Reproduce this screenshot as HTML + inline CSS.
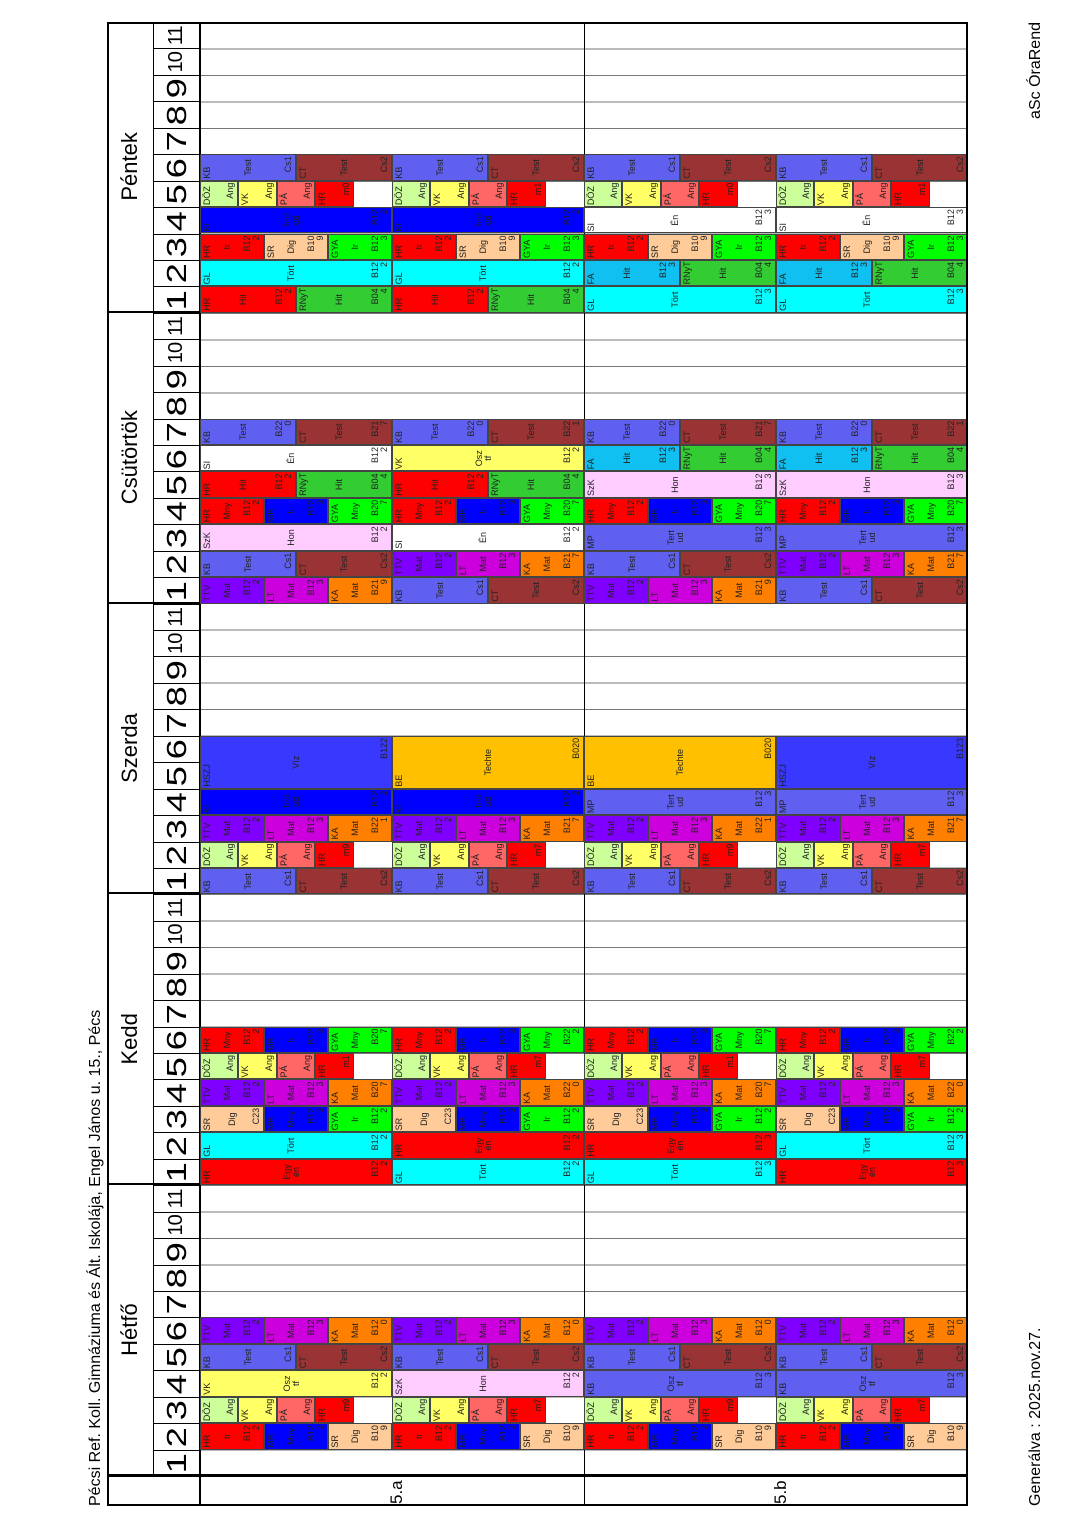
<!DOCTYPE html>
<html><head><meta charset="utf-8">
<style>
html,body{margin:0;padding:0;background:#fff;}
body{width:1080px;height:1528px;position:relative;overflow:hidden;font-family:"Liberation Sans",Arial,sans-serif;}
#R{position:absolute;left:107px;top:1506px;width:1484px;height:861px;transform-origin:0 0;transform:rotate(-90deg);}
.frame{position:absolute;left:0;top:0;width:1484px;height:861px;border:2px solid #000;box-sizing:border-box;z-index:5;pointer-events:none}
.day{position:absolute;top:0;height:861px;width:290.8px;left:calc(30px + var(--d)*290.8px);border-left:2px solid #000;box-sizing:border-box;}
.dn{position:absolute;left:0;top:0;width:100%;height:46px;border-bottom:1px solid #000;font-size:22px;text-align:center;line-height:46px;}
.bg{position:absolute;left:-2px;top:93px;width:290.8px;height:768px;background:repeating-linear-gradient(to right,transparent 0 25.436px,#777 25.436px 26.436px);}
.pn{position:absolute;top:46px;height:47px;width:26.436px;left:calc((var(--p) - 1)*26.436px - 2px);border-right:1px solid #000;box-sizing:border-box;text-align:center;font-size:28px;line-height:47px;}
.pn span{display:inline-block;transform:scaleX(1.3)}
.pn.s{font-size:20px;letter-spacing:-1px}
.pn.s span{transform:none}
.hl{position:absolute;left:0;width:1484px;background:#000}
.c{position:absolute;left:calc(30px + var(--d)*290.8px + (var(--p) - 1)*26.436px);top:calc(var(--v)*1px);width:26.436px;height:calc(var(--h)*1px);box-sizing:border-box;border:1px solid #444;overflow:hidden;font-size:9px;line-height:9px;color:#222;display:flex;flex-direction:column;justify-content:space-between;padding:2px 1px;z-index:2}
.c.w2{width:52.87px}
.c b,.c i,.c s{font-weight:normal;font-style:normal;text-decoration:none;display:block}
.c i{text-align:center}
.c s{text-align:right}
.red{background:#ff0000}.blu{background:#0000ff}.pch{background:#ffcc99}.pur{background:#8000ff}.mag{background:#cc00dd}.org{background:#ff8000}.per{background:#6060f0}.brn{background:#9a3333}.yel{background:#ffff66}.pnk{background:#ffccff}.lgr{background:#ccff99}.sal{background:#ff6666}.grn{background:#00ff00}.rny{background:#33cc33}.cya{background:#00ffff}.fa{background:#10c0f0}.hsz{background:#3838ff}.gold{background:#ffc000}.wht{background:#fff}
.cl{position:absolute;top:0;height:30px;font-size:17px;line-height:30px}
.t{position:absolute;font-size:16px;white-space:nowrap;line-height:20px}
</style></head><body>
<div id="R">
<div class="t" style="left:0;top:-21px">Pécsi Ref. Koll. Gimnáziuma és Ált. Iskolája, Engel János u. 15., Pécs</div>
<div class="t" style="left:0;top:919px">Generálva : 2025.nov.27.</div>
<div class="t" style="right:0;top:919px;left:auto;width:auto;position:absolute;text-align:right"><span style="position:absolute;right:0;white-space:nowrap">aSc ÓraRend</span></div>

<div class="day" style="--d:0"><div class="dn">Hétfő</div><div class="bg"></div>
<div class="pn" style="--p:1"><span>1</span></div><div class="pn" style="--p:2"><span>2</span></div><div class="pn" style="--p:3"><span>3</span></div><div class="pn" style="--p:4"><span>4</span></div><div class="pn" style="--p:5"><span>5</span></div><div class="pn" style="--p:6"><span>6</span></div><div class="pn" style="--p:7"><span>7</span></div><div class="pn" style="--p:8"><span>8</span></div><div class="pn" style="--p:9"><span>9</span></div><div class="pn s" style="--p:10"><span>10</span></div><div class="pn s" style="--p:11"><span>11</span></div></div>
<div class="day" style="--d:1"><div class="dn">Kedd</div><div class="bg"></div>
<div class="pn" style="--p:1"><span>1</span></div><div class="pn" style="--p:2"><span>2</span></div><div class="pn" style="--p:3"><span>3</span></div><div class="pn" style="--p:4"><span>4</span></div><div class="pn" style="--p:5"><span>5</span></div><div class="pn" style="--p:6"><span>6</span></div><div class="pn" style="--p:7"><span>7</span></div><div class="pn" style="--p:8"><span>8</span></div><div class="pn" style="--p:9"><span>9</span></div><div class="pn s" style="--p:10"><span>10</span></div><div class="pn s" style="--p:11"><span>11</span></div></div>
<div class="day" style="--d:2"><div class="dn">Szerda</div><div class="bg"></div>
<div class="pn" style="--p:1"><span>1</span></div><div class="pn" style="--p:2"><span>2</span></div><div class="pn" style="--p:3"><span>3</span></div><div class="pn" style="--p:4"><span>4</span></div><div class="pn" style="--p:5"><span>5</span></div><div class="pn" style="--p:6"><span>6</span></div><div class="pn" style="--p:7"><span>7</span></div><div class="pn" style="--p:8"><span>8</span></div><div class="pn" style="--p:9"><span>9</span></div><div class="pn s" style="--p:10"><span>10</span></div><div class="pn s" style="--p:11"><span>11</span></div></div>
<div class="day" style="--d:3"><div class="dn">Csütörtök</div><div class="bg"></div>
<div class="pn" style="--p:1"><span>1</span></div><div class="pn" style="--p:2"><span>2</span></div><div class="pn" style="--p:3"><span>3</span></div><div class="pn" style="--p:4"><span>4</span></div><div class="pn" style="--p:5"><span>5</span></div><div class="pn" style="--p:6"><span>6</span></div><div class="pn" style="--p:7"><span>7</span></div><div class="pn" style="--p:8"><span>8</span></div><div class="pn" style="--p:9"><span>9</span></div><div class="pn s" style="--p:10"><span>10</span></div><div class="pn s" style="--p:11"><span>11</span></div></div>
<div class="day" style="--d:4"><div class="dn">Péntek</div><div class="bg"></div>
<div class="pn" style="--p:1"><span>1</span></div><div class="pn" style="--p:2"><span>2</span></div><div class="pn" style="--p:3"><span>3</span></div><div class="pn" style="--p:4"><span>4</span></div><div class="pn" style="--p:5"><span>5</span></div><div class="pn" style="--p:6"><span>6</span></div><div class="pn" style="--p:7"><span>7</span></div><div class="pn" style="--p:8"><span>8</span></div><div class="pn" style="--p:9"><span>9</span></div><div class="pn s" style="--p:10"><span>10</span></div><div class="pn s" style="--p:11"><span>11</span></div></div>

<div class="hl" style="top:92px;height:2px"></div>
<div class="hl" style="top:477px;height:1px;left:0"></div>
<div style="position:absolute;left:29px;top:0;width:2px;height:861px;background:#000"></div>
<div class="cl" style="left:2px;top:275px">5.a</div>
<div class="cl" style="left:2px;top:659px">5.b</div>

<!-- HÉTFŐ d0 -->
<!-- p2 thirds A -->
<div class="c red" style="--d:0;--p:2;--v:93;--h:64"><b>HR</b><i>Ir</i><s>B12 2</s></div>
<div class="c blu" style="--d:0;--p:2;--v:157;--h:64"><b>MB</b><i>Mny</i><s>B12 3</s></div>
<div class="c pch" style="--d:0;--p:2;--v:221;--h:64"><b>SR</b><i>Dig</i><s>B10 9</s></div>
<div class="c red" style="--d:0;--p:2;--v:285;--h:64"><b>HR</b><i>Ir</i><s>B12 2</s></div>
<div class="c blu" style="--d:0;--p:2;--v:349;--h:64"><b>MB</b><i>Mny</i><s>B12 3</s></div>
<div class="c pch" style="--d:0;--p:2;--v:413;--h:64"><b>SR</b><i>Dig</i><s>B10 9</s></div>
<div class="c red" style="--d:0;--p:2;--v:477;--h:64"><b>HR</b><i>Ir</i><s>B12 2</s></div>
<div class="c blu" style="--d:0;--p:2;--v:541;--h:64"><b>MB</b><i>Mny</i><s>B12 3</s></div>
<div class="c pch" style="--d:0;--p:2;--v:605;--h:64"><b>SR</b><i>Dig</i><s>B10 9</s></div>
<div class="c red" style="--d:0;--p:2;--v:669;--h:64"><b>HR</b><i>Ir</i><s>B12 2</s></div>
<div class="c blu" style="--d:0;--p:2;--v:733;--h:64"><b>MB</b><i>Mny</i><s>B12 3</s></div>
<div class="c pch" style="--d:0;--p:2;--v:797;--h:64"><b>SR</b><i>Dig</i><s>B10 9</s></div>
<!-- p3 5-slot -->
<div class="c lgr" style="--d:0;--p:3;--v:93;--h:38.4"><b>DÖZ</b><s>Ang</s></div>
<div class="c yel" style="--d:0;--p:3;--v:131.4;--h:38.4"><b>VK</b><s>Ang</s></div>
<div class="c sal" style="--d:0;--p:3;--v:169.8;--h:38.4"><b>PÁ</b><s>Ang</s></div>
<div class="c red" style="--d:0;--p:3;--v:208.2;--h:38.4"><b>HR</b><s>m9</s></div>
<div class="c lgr" style="--d:0;--p:3;--v:285;--h:38.4"><b>DÖZ</b><s>Ang</s></div>
<div class="c yel" style="--d:0;--p:3;--v:323.4;--h:38.4"><b>VK</b><s>Ang</s></div>
<div class="c sal" style="--d:0;--p:3;--v:361.8;--h:38.4"><b>PÁ</b><s>Ang</s></div>
<div class="c red" style="--d:0;--p:3;--v:400.2;--h:38.4"><b>HR</b><s>m7</s></div>
<div class="c lgr" style="--d:0;--p:3;--v:477;--h:38.4"><b>DÖZ</b><s>Ang</s></div>
<div class="c yel" style="--d:0;--p:3;--v:515.4;--h:38.4"><b>VK</b><s>Ang</s></div>
<div class="c sal" style="--d:0;--p:3;--v:553.8;--h:38.4"><b>PÁ</b><s>Ang</s></div>
<div class="c red" style="--d:0;--p:3;--v:592.2;--h:38.4"><b>HR</b><s>m9</s></div>
<div class="c lgr" style="--d:0;--p:3;--v:669;--h:38.4"><b>DÖZ</b><s>Ang</s></div>
<div class="c yel" style="--d:0;--p:3;--v:707.4;--h:38.4"><b>VK</b><s>Ang</s></div>
<div class="c sal" style="--d:0;--p:3;--v:745.8;--h:38.4"><b>PÁ</b><s>Ang</s></div>
<div class="c red" style="--d:0;--p:3;--v:784.2;--h:38.4"><b>HR</b><s>m7</s></div>
<!-- p4 -->
<div class="c yel" style="--d:0;--p:4;--v:93;--h:192"><b>VK</b><i>Osz tf</i><s>B12 2</s></div>
<div class="c pnk" style="--d:0;--p:4;--v:285;--h:192"><b>SzK</b><i>Hon</i><s>B12 2</s></div>
<div class="c per" style="--d:0;--p:4;--v:477;--h:192"><b>KB</b><i>Osz tf</i><s>B12 3</s></div>
<div class="c per" style="--d:0;--p:4;--v:669;--h:192"><b>KB</b><i>Osz tf</i><s>B12 3</s></div>
<!-- p5 halves -->
<div class="c per" style="--d:0;--p:5;--v:93;--h:96"><b>KB</b><i>Test</i><s>Cs1</s></div>
<div class="c brn" style="--d:0;--p:5;--v:189;--h:96"><b>CT</b><i>Test</i><s>Cs2</s></div>
<div class="c per" style="--d:0;--p:5;--v:285;--h:96"><b>KB</b><i>Test</i><s>Cs1</s></div>
<div class="c brn" style="--d:0;--p:5;--v:381;--h:96"><b>CT</b><i>Test</i><s>Cs2</s></div>
<div class="c per" style="--d:0;--p:5;--v:477;--h:96"><b>KB</b><i>Test</i><s>Cs1</s></div>
<div class="c brn" style="--d:0;--p:5;--v:573;--h:96"><b>CT</b><i>Test</i><s>Cs2</s></div>
<div class="c per" style="--d:0;--p:5;--v:669;--h:96"><b>KB</b><i>Test</i><s>Cs1</s></div>
<div class="c brn" style="--d:0;--p:5;--v:765;--h:96"><b>CT</b><i>Test</i><s>Cs2</s></div>
<!-- p6 thirds B -->
<div class="c pur" style="--d:0;--p:6;--v:93;--h:64"><b>TTV</b><i>Mat</i><s>B12 2</s></div>
<div class="c mag" style="--d:0;--p:6;--v:157;--h:64"><b>LT</b><i>Mat</i><s>B12 3</s></div>
<div class="c org" style="--d:0;--p:6;--v:221;--h:64"><b>KA</b><i>Mat</i><s>B12 0</s></div>
<div class="c pur" style="--d:0;--p:6;--v:285;--h:64"><b>TTV</b><i>Mat</i><s>B12 2</s></div>
<div class="c mag" style="--d:0;--p:6;--v:349;--h:64"><b>LT</b><i>Mat</i><s>B12 3</s></div>
<div class="c org" style="--d:0;--p:6;--v:413;--h:64"><b>KA</b><i>Mat</i><s>B12 0</s></div>
<div class="c pur" style="--d:0;--p:6;--v:477;--h:64"><b>TTV</b><i>Mat</i><s>B12 2</s></div>
<div class="c mag" style="--d:0;--p:6;--v:541;--h:64"><b>LT</b><i>Mat</i><s>B12 3</s></div>
<div class="c org" style="--d:0;--p:6;--v:605;--h:64"><b>KA</b><i>Mat</i><s>B12 0</s></div>
<div class="c pur" style="--d:0;--p:6;--v:669;--h:64"><b>TTV</b><i>Mat</i><s>B12 2</s></div>
<div class="c mag" style="--d:0;--p:6;--v:733;--h:64"><b>LT</b><i>Mat</i><s>B12 3</s></div>
<div class="c org" style="--d:0;--p:6;--v:797;--h:64"><b>KA</b><i>Mat</i><s>B12 0</s></div>

<!-- KEDD d1 -->
<div class="c red" style="--d:1;--p:1;--v:93;--h:192"><b>HR</b><i>Egy én</i><s>B12 2</s></div>
<div class="c cya" style="--d:1;--p:1;--v:285;--h:192"><b>GL</b><i>Tört</i><s>B12 2</s></div>
<div class="c cya" style="--d:1;--p:1;--v:477;--h:192"><b>GL</b><i>Tört</i><s>B12 3</s></div>
<div class="c red" style="--d:1;--p:1;--v:669;--h:192"><b>HR</b><i>Egy én</i><s>B12 3</s></div>
<div class="c cya" style="--d:1;--p:2;--v:93;--h:192"><b>GL</b><i>Tört</i><s>B12 2</s></div>
<div class="c red" style="--d:1;--p:2;--v:285;--h:192"><b>HR</b><i>Egy én</i><s>B12 2</s></div>
<div class="c red" style="--d:1;--p:2;--v:477;--h:192"><b>HR</b><i>Egy én</i><s>B12 3</s></div>
<div class="c cya" style="--d:1;--p:2;--v:669;--h:192"><b>GL</b><i>Tört</i><s>B12 3</s></div>
<!-- p3 C -->
<div class="c pch" style="--d:1;--p:3;--v:93;--h:64"><b>SR</b><i>Dig</i><s>C23</s></div>
<div class="c blu" style="--d:1;--p:3;--v:157;--h:64"><b>MB</b><i>Mny</i><s>B12 3</s></div>
<div class="c grn" style="--d:1;--p:3;--v:221;--h:64"><b>GYA</b><i>Ir</i><s>B12 2</s></div>
<div class="c pch" style="--d:1;--p:3;--v:285;--h:64"><b>SR</b><i>Dig</i><s>C23</s></div>
<div class="c blu" style="--d:1;--p:3;--v:349;--h:64"><b>MB</b><i>Mny</i><s>B12 3</s></div>
<div class="c grn" style="--d:1;--p:3;--v:413;--h:64"><b>GYA</b><i>Ir</i><s>B12 2</s></div>
<div class="c pch" style="--d:1;--p:3;--v:477;--h:64"><b>SR</b><i>Dig</i><s>C23</s></div>
<div class="c blu" style="--d:1;--p:3;--v:541;--h:64"><b>MB</b><i>Mny</i><s>B12 3</s></div>
<div class="c grn" style="--d:1;--p:3;--v:605;--h:64"><b>GYA</b><i>Ir</i><s>B12 2</s></div>
<div class="c pch" style="--d:1;--p:3;--v:669;--h:64"><b>SR</b><i>Dig</i><s>C23</s></div>
<div class="c blu" style="--d:1;--p:3;--v:733;--h:64"><b>MB</b><i>Mny</i><s>B12 3</s></div>
<div class="c grn" style="--d:1;--p:3;--v:797;--h:64"><b>GYA</b><i>Ir</i><s>B12 2</s></div>
<!-- p4 B -->
<div class="c pur" style="--d:1;--p:4;--v:93;--h:64"><b>TTV</b><i>Mat</i><s>B12 2</s></div>
<div class="c mag" style="--d:1;--p:4;--v:157;--h:64"><b>LT</b><i>Mat</i><s>B12 3</s></div>
<div class="c org" style="--d:1;--p:4;--v:221;--h:64"><b>KA</b><i>Mat</i><s>B20 7</s></div>
<div class="c pur" style="--d:1;--p:4;--v:285;--h:64"><b>TTV</b><i>Mat</i><s>B12 2</s></div>
<div class="c mag" style="--d:1;--p:4;--v:349;--h:64"><b>LT</b><i>Mat</i><s>B12 3</s></div>
<div class="c org" style="--d:1;--p:4;--v:413;--h:64"><b>KA</b><i>Mat</i><s>B22 0</s></div>
<div class="c pur" style="--d:1;--p:4;--v:477;--h:64"><b>TTV</b><i>Mat</i><s>B12 2</s></div>
<div class="c mag" style="--d:1;--p:4;--v:541;--h:64"><b>LT</b><i>Mat</i><s>B12 3</s></div>
<div class="c org" style="--d:1;--p:4;--v:605;--h:64"><b>KA</b><i>Mat</i><s>B20 7</s></div>
<div class="c pur" style="--d:1;--p:4;--v:669;--h:64"><b>TTV</b><i>Mat</i><s>B12 2</s></div>
<div class="c mag" style="--d:1;--p:4;--v:733;--h:64"><b>LT</b><i>Mat</i><s>B12 3</s></div>
<div class="c org" style="--d:1;--p:4;--v:797;--h:64"><b>KA</b><i>Mat</i><s>B22 0</s></div>
<!-- p5 5-slot -->
<div class="c lgr" style="--d:1;--p:5;--v:93;--h:38.4"><b>DÖZ</b><s>Ang</s></div>
<div class="c yel" style="--d:1;--p:5;--v:131.4;--h:38.4"><b>VK</b><s>Ang</s></div>
<div class="c sal" style="--d:1;--p:5;--v:169.8;--h:38.4"><b>PÁ</b><s>Ang</s></div>
<div class="c red" style="--d:1;--p:5;--v:208.2;--h:38.4"><b>HR</b><s>m1</s></div>
<div class="c lgr" style="--d:1;--p:5;--v:285;--h:38.4"><b>DÖZ</b><s>Ang</s></div>
<div class="c yel" style="--d:1;--p:5;--v:323.4;--h:38.4"><b>VK</b><s>Ang</s></div>
<div class="c sal" style="--d:1;--p:5;--v:361.8;--h:38.4"><b>PÁ</b><s>Ang</s></div>
<div class="c red" style="--d:1;--p:5;--v:400.2;--h:38.4"><b>HR</b><s>m7</s></div>
<div class="c lgr" style="--d:1;--p:5;--v:477;--h:38.4"><b>DÖZ</b><s>Ang</s></div>
<div class="c yel" style="--d:1;--p:5;--v:515.4;--h:38.4"><b>VK</b><s>Ang</s></div>
<div class="c sal" style="--d:1;--p:5;--v:553.8;--h:38.4"><b>PÁ</b><s>Ang</s></div>
<div class="c red" style="--d:1;--p:5;--v:592.2;--h:38.4"><b>HR</b><s>m1</s></div>
<div class="c lgr" style="--d:1;--p:5;--v:669;--h:38.4"><b>DÖZ</b><s>Ang</s></div>
<div class="c yel" style="--d:1;--p:5;--v:707.4;--h:38.4"><b>VK</b><s>Ang</s></div>
<div class="c sal" style="--d:1;--p:5;--v:745.8;--h:38.4"><b>PÁ</b><s>Ang</s></div>
<div class="c red" style="--d:1;--p:5;--v:784.2;--h:38.4"><b>HR</b><s>m7</s></div>
<!-- p6 D -->
<div class="c red" style="--d:1;--p:6;--v:93;--h:64"><b>HR</b><i>Mny</i><s>B12 2</s></div>
<div class="c blu" style="--d:1;--p:6;--v:157;--h:64"><b>MB</b><i>Ir</i><s>B12 3</s></div>
<div class="c grn" style="--d:1;--p:6;--v:221;--h:64"><b>GYA</b><i>Mny</i><s>B20 7</s></div>
<div class="c red" style="--d:1;--p:6;--v:285;--h:64"><b>HR</b><i>Mny</i><s>B12 2</s></div>
<div class="c blu" style="--d:1;--p:6;--v:349;--h:64"><b>MB</b><i>Ir</i><s>B12 3</s></div>
<div class="c grn" style="--d:1;--p:6;--v:413;--h:64"><b>GYA</b><i>Mny</i><s>B22 2</s></div>
<div class="c red" style="--d:1;--p:6;--v:477;--h:64"><b>HR</b><i>Mny</i><s>B12 2</s></div>
<div class="c blu" style="--d:1;--p:6;--v:541;--h:64"><b>MB</b><i>Ir</i><s>B12 3</s></div>
<div class="c grn" style="--d:1;--p:6;--v:605;--h:64"><b>GYA</b><i>Mny</i><s>B20 7</s></div>
<div class="c red" style="--d:1;--p:6;--v:669;--h:64"><b>HR</b><i>Mny</i><s>B12 2</s></div>
<div class="c blu" style="--d:1;--p:6;--v:733;--h:64"><b>MB</b><i>Ir</i><s>B12 3</s></div>
<div class="c grn" style="--d:1;--p:6;--v:797;--h:64"><b>GYA</b><i>Mny</i><s>B22 2</s></div>

<!-- SZERDA d2 -->
<div class="c per" style="--d:2;--p:1;--v:93;--h:96"><b>KB</b><i>Test</i><s>Cs1</s></div>
<div class="c brn" style="--d:2;--p:1;--v:189;--h:96"><b>CT</b><i>Test</i><s>Cs2</s></div>
<div class="c per" style="--d:2;--p:1;--v:285;--h:96"><b>KB</b><i>Test</i><s>Cs1</s></div>
<div class="c brn" style="--d:2;--p:1;--v:381;--h:96"><b>CT</b><i>Test</i><s>Cs2</s></div>
<div class="c per" style="--d:2;--p:1;--v:477;--h:96"><b>KB</b><i>Test</i><s>Cs1</s></div>
<div class="c brn" style="--d:2;--p:1;--v:573;--h:96"><b>CT</b><i>Test</i><s>Cs2</s></div>
<div class="c per" style="--d:2;--p:1;--v:669;--h:96"><b>KB</b><i>Test</i><s>Cs1</s></div>
<div class="c brn" style="--d:2;--p:1;--v:765;--h:96"><b>CT</b><i>Test</i><s>Cs2</s></div>
<div class="c lgr" style="--d:2;--p:2;--v:93;--h:38.4"><b>DÖZ</b><s>Ang</s></div>
<div class="c yel" style="--d:2;--p:2;--v:131.4;--h:38.4"><b>VK</b><s>Ang</s></div>
<div class="c sal" style="--d:2;--p:2;--v:169.8;--h:38.4"><b>PÁ</b><s>Ang</s></div>
<div class="c red" style="--d:2;--p:2;--v:208.2;--h:38.4"><b>HR</b><s>m9</s></div>
<div class="c lgr" style="--d:2;--p:2;--v:285;--h:38.4"><b>DÖZ</b><s>Ang</s></div>
<div class="c yel" style="--d:2;--p:2;--v:323.4;--h:38.4"><b>VK</b><s>Ang</s></div>
<div class="c sal" style="--d:2;--p:2;--v:361.8;--h:38.4"><b>PÁ</b><s>Ang</s></div>
<div class="c red" style="--d:2;--p:2;--v:400.2;--h:38.4"><b>HR</b><s>m7</s></div>
<div class="c lgr" style="--d:2;--p:2;--v:477;--h:38.4"><b>DÖZ</b><s>Ang</s></div>
<div class="c yel" style="--d:2;--p:2;--v:515.4;--h:38.4"><b>VK</b><s>Ang</s></div>
<div class="c sal" style="--d:2;--p:2;--v:553.8;--h:38.4"><b>PÁ</b><s>Ang</s></div>
<div class="c red" style="--d:2;--p:2;--v:592.2;--h:38.4"><b>HR</b><s>m9</s></div>
<div class="c lgr" style="--d:2;--p:2;--v:669;--h:38.4"><b>DÖZ</b><s>Ang</s></div>
<div class="c yel" style="--d:2;--p:2;--v:707.4;--h:38.4"><b>VK</b><s>Ang</s></div>
<div class="c sal" style="--d:2;--p:2;--v:745.8;--h:38.4"><b>PÁ</b><s>Ang</s></div>
<div class="c red" style="--d:2;--p:2;--v:784.2;--h:38.4"><b>HR</b><s>m7</s></div>
<div class="c pur" style="--d:2;--p:3;--v:93;--h:64"><b>TTV</b><i>Mat</i><s>B12 2</s></div>
<div class="c mag" style="--d:2;--p:3;--v:157;--h:64"><b>LT</b><i>Mat</i><s>B12 3</s></div>
<div class="c org" style="--d:2;--p:3;--v:221;--h:64"><b>KA</b><i>Mat</i><s>B22 1</s></div>
<div class="c pur" style="--d:2;--p:3;--v:285;--h:64"><b>TTV</b><i>Mat</i><s>B12 2</s></div>
<div class="c mag" style="--d:2;--p:3;--v:349;--h:64"><b>LT</b><i>Mat</i><s>B12 3</s></div>
<div class="c org" style="--d:2;--p:3;--v:413;--h:64"><b>KA</b><i>Mat</i><s>B21 7</s></div>
<div class="c pur" style="--d:2;--p:3;--v:477;--h:64"><b>TTV</b><i>Mat</i><s>B12 2</s></div>
<div class="c mag" style="--d:2;--p:3;--v:541;--h:64"><b>LT</b><i>Mat</i><s>B12 3</s></div>
<div class="c org" style="--d:2;--p:3;--v:605;--h:64"><b>KA</b><i>Mat</i><s>B22 1</s></div>
<div class="c pur" style="--d:2;--p:3;--v:669;--h:64"><b>TTV</b><i>Mat</i><s>B12 2</s></div>
<div class="c mag" style="--d:2;--p:3;--v:733;--h:64"><b>LT</b><i>Mat</i><s>B12 3</s></div>
<div class="c org" style="--d:2;--p:3;--v:797;--h:64"><b>KA</b><i>Mat</i><s>B21 7</s></div>
<div class="c blu" style="--d:2;--p:4;--v:93;--h:192"><b>KI</b><i>Tert ud</i><s>B12 2</s></div>
<div class="c blu" style="--d:2;--p:4;--v:285;--h:192"><b>KI</b><i>Tert ud</i><s>B12 2</s></div>
<div class="c per" style="--d:2;--p:4;--v:477;--h:192"><b>MP</b><i>Tert ud</i><s>B12 3</s></div>
<div class="c per" style="--d:2;--p:4;--v:669;--h:192"><b>MP</b><i>Tert ud</i><s>B12 3</s></div>
<div class="c hsz w2" style="--d:2;--p:5;--v:93;--h:192"><b>HSZJ</b><i>Víz</i><s>B122</s></div>
<div class="c gold w2" style="--d:2;--p:5;--v:285;--h:192"><b>BE</b><i>Techte</i><s>B020</s></div>
<div class="c gold w2" style="--d:2;--p:5;--v:477;--h:192"><b>BE</b><i>Techte</i><s>B020</s></div>
<div class="c hsz w2" style="--d:2;--p:5;--v:669;--h:192"><b>HSZJ</b><i>Víz</i><s>B123</s></div>

<!-- CSÜTÖRTÖK d3 -->
<div class="c pur" style="--d:3;--p:1;--v:93;--h:64"><b>TTV</b><i>Mat</i><s>B12 2</s></div>
<div class="c mag" style="--d:3;--p:1;--v:157;--h:64"><b>LT</b><i>Mat</i><s>B12 3</s></div>
<div class="c org" style="--d:3;--p:1;--v:221;--h:64"><b>KA</b><i>Mat</i><s>B21 9</s></div>
<div class="c per" style="--d:3;--p:1;--v:285;--h:96"><b>KB</b><i>Test</i><s>Cs1</s></div>
<div class="c brn" style="--d:3;--p:1;--v:381;--h:96"><b>CT</b><i>Test</i><s>Cs2</s></div>
<div class="c pur" style="--d:3;--p:1;--v:477;--h:64"><b>TTV</b><i>Mat</i><s>B12 2</s></div>
<div class="c mag" style="--d:3;--p:1;--v:541;--h:64"><b>LT</b><i>Mat</i><s>B12 3</s></div>
<div class="c org" style="--d:3;--p:1;--v:605;--h:64"><b>KA</b><i>Mat</i><s>B21 9</s></div>
<div class="c per" style="--d:3;--p:1;--v:669;--h:96"><b>KB</b><i>Test</i><s>Cs1</s></div>
<div class="c brn" style="--d:3;--p:1;--v:765;--h:96"><b>CT</b><i>Test</i><s>Cs2</s></div>
<div class="c per" style="--d:3;--p:2;--v:93;--h:96"><b>KB</b><i>Test</i><s>Cs1</s></div>
<div class="c brn" style="--d:3;--p:2;--v:189;--h:96"><b>CT</b><i>Test</i><s>Cs2</s></div>
<div class="c pur" style="--d:3;--p:2;--v:285;--h:64"><b>TTV</b><i>Mat</i><s>B12 2</s></div>
<div class="c mag" style="--d:3;--p:2;--v:349;--h:64"><b>LT</b><i>Mat</i><s>B12 3</s></div>
<div class="c org" style="--d:3;--p:2;--v:413;--h:64"><b>KA</b><i>Mat</i><s>B21 7</s></div>
<div class="c per" style="--d:3;--p:2;--v:477;--h:96"><b>KB</b><i>Test</i><s>Cs1</s></div>
<div class="c brn" style="--d:3;--p:2;--v:573;--h:96"><b>CT</b><i>Test</i><s>Cs2</s></div>
<div class="c pur" style="--d:3;--p:2;--v:669;--h:64"><b>TTV</b><i>Mat</i><s>B12 2</s></div>
<div class="c mag" style="--d:3;--p:2;--v:733;--h:64"><b>LT</b><i>Mat</i><s>B12 3</s></div>
<div class="c org" style="--d:3;--p:2;--v:797;--h:64"><b>KA</b><i>Mat</i><s>B21 7</s></div>
<div class="c pnk" style="--d:3;--p:3;--v:93;--h:192"><b>SzK</b><i>Hon</i><s>B12 2</s></div>
<div class="c wht" style="--d:3;--p:3;--v:285;--h:192"><b>SI</b><i>Én</i><s>B12 2</s></div>
<div class="c per" style="--d:3;--p:3;--v:477;--h:192"><b>MP</b><i>Tert ud</i><s>B12 3</s></div>
<div class="c per" style="--d:3;--p:3;--v:669;--h:192"><b>MP</b><i>Tert ud</i><s>B12 3</s></div>
<div class="c red" style="--d:3;--p:4;--v:93;--h:64"><b>HR</b><i>Mny</i><s>B12 2</s></div>
<div class="c blu" style="--d:3;--p:4;--v:157;--h:64"><b>MB</b><i>Ir</i><s>B12 3</s></div>
<div class="c grn" style="--d:3;--p:4;--v:221;--h:64"><b>GYA</b><i>Mny</i><s>B20 7</s></div>
<div class="c red" style="--d:3;--p:4;--v:285;--h:64"><b>HR</b><i>Mny</i><s>B12 2</s></div>
<div class="c blu" style="--d:3;--p:4;--v:349;--h:64"><b>MB</b><i>Ir</i><s>B12 3</s></div>
<div class="c grn" style="--d:3;--p:4;--v:413;--h:64"><b>GYA</b><i>Mny</i><s>B20 7</s></div>
<div class="c red" style="--d:3;--p:4;--v:477;--h:64"><b>HR</b><i>Mny</i><s>B12 2</s></div>
<div class="c blu" style="--d:3;--p:4;--v:541;--h:64"><b>MB</b><i>Ir</i><s>B12 3</s></div>
<div class="c grn" style="--d:3;--p:4;--v:605;--h:64"><b>GYA</b><i>Mny</i><s>B20 7</s></div>
<div class="c red" style="--d:3;--p:4;--v:669;--h:64"><b>HR</b><i>Mny</i><s>B12 2</s></div>
<div class="c blu" style="--d:3;--p:4;--v:733;--h:64"><b>MB</b><i>Ir</i><s>B12 3</s></div>
<div class="c grn" style="--d:3;--p:4;--v:797;--h:64"><b>GYA</b><i>Mny</i><s>B20 7</s></div>
<div class="c red" style="--d:3;--p:5;--v:93;--h:96"><b>HR</b><i>Hit</i><s>B12 2</s></div>
<div class="c rny" style="--d:3;--p:5;--v:189;--h:96"><b>RNyT</b><i>Hit</i><s>B04 4</s></div>
<div class="c red" style="--d:3;--p:5;--v:285;--h:96"><b>HR</b><i>Hit</i><s>B12 2</s></div>
<div class="c rny" style="--d:3;--p:5;--v:381;--h:96"><b>RNyT</b><i>Hit</i><s>B04 4</s></div>
<div class="c pnk" style="--d:3;--p:5;--v:477;--h:192"><b>SzK</b><i>Hon</i><s>B12 3</s></div>
<div class="c pnk" style="--d:3;--p:5;--v:669;--h:192"><b>SzK</b><i>Hon</i><s>B12 3</s></div>
<div class="c wht" style="--d:3;--p:6;--v:93;--h:192"><b>SI</b><i>Én</i><s>B12 2</s></div>
<div class="c yel" style="--d:3;--p:6;--v:285;--h:192"><b>VK</b><i>Osz tf</i><s>B12 2</s></div>
<div class="c fa" style="--d:3;--p:6;--v:477;--h:96"><b>FA</b><i>Hit</i><s>B12 3</s></div>
<div class="c rny" style="--d:3;--p:6;--v:573;--h:96"><b>RNyT</b><i>Hit</i><s>B04 4</s></div>
<div class="c fa" style="--d:3;--p:6;--v:669;--h:96"><b>FA</b><i>Hit</i><s>B12 3</s></div>
<div class="c rny" style="--d:3;--p:6;--v:765;--h:96"><b>RNyT</b><i>Hit</i><s>B04 4</s></div>
<div class="c per" style="--d:3;--p:7;--v:93;--h:96"><b>KB</b><i>Test</i><s>B22 0</s></div>
<div class="c brn" style="--d:3;--p:7;--v:189;--h:96"><b>CT</b><i>Test</i><s>B21 7</s></div>
<div class="c per" style="--d:3;--p:7;--v:285;--h:96"><b>KB</b><i>Test</i><s>B22 0</s></div>
<div class="c brn" style="--d:3;--p:7;--v:381;--h:96"><b>CT</b><i>Test</i><s>B22 1</s></div>
<div class="c per" style="--d:3;--p:7;--v:477;--h:96"><b>KB</b><i>Test</i><s>B22 0</s></div>
<div class="c brn" style="--d:3;--p:7;--v:573;--h:96"><b>CT</b><i>Test</i><s>B21 7</s></div>
<div class="c per" style="--d:3;--p:7;--v:669;--h:96"><b>KB</b><i>Test</i><s>B22 0</s></div>
<div class="c brn" style="--d:3;--p:7;--v:765;--h:96"><b>CT</b><i>Test</i><s>B22 1</s></div>

<!-- PÉNTEK d4 -->
<div class="c red" style="--d:4;--p:1;--v:93;--h:96"><b>HR</b><i>Hit</i><s>B12 2</s></div>
<div class="c rny" style="--d:4;--p:1;--v:189;--h:96"><b>RNyT</b><i>Hit</i><s>B04 4</s></div>
<div class="c red" style="--d:4;--p:1;--v:285;--h:96"><b>HR</b><i>Hit</i><s>B12 2</s></div>
<div class="c rny" style="--d:4;--p:1;--v:381;--h:96"><b>RNyT</b><i>Hit</i><s>B04 4</s></div>
<div class="c cya" style="--d:4;--p:1;--v:477;--h:192"><b>GL</b><i>Tört</i><s>B12 3</s></div>
<div class="c cya" style="--d:4;--p:1;--v:669;--h:192"><b>GL</b><i>Tört</i><s>B12 3</s></div>
<div class="c cya" style="--d:4;--p:2;--v:93;--h:192"><b>GL</b><i>Tört</i><s>B12 2</s></div>
<div class="c cya" style="--d:4;--p:2;--v:285;--h:192"><b>GL</b><i>Tört</i><s>B12 2</s></div>
<div class="c fa" style="--d:4;--p:2;--v:477;--h:96"><b>FA</b><i>Hit</i><s>B12 3</s></div>
<div class="c rny" style="--d:4;--p:2;--v:573;--h:96"><b>RNyT</b><i>Hit</i><s>B04 4</s></div>
<div class="c fa" style="--d:4;--p:2;--v:669;--h:96"><b>FA</b><i>Hit</i><s>B12 3</s></div>
<div class="c rny" style="--d:4;--p:2;--v:765;--h:96"><b>RNyT</b><i>Hit</i><s>B04 4</s></div>
<div class="c red" style="--d:4;--p:3;--v:93;--h:64"><b>HR</b><i>Ir</i><s>B12 2</s></div>
<div class="c pch" style="--d:4;--p:3;--v:157;--h:64"><b>SR</b><i>Dig</i><s>B10 9</s></div>
<div class="c grn" style="--d:4;--p:3;--v:221;--h:64"><b>GYA</b><i>Ir</i><s>B12 3</s></div>
<div class="c red" style="--d:4;--p:3;--v:285;--h:64"><b>HR</b><i>Ir</i><s>B12 2</s></div>
<div class="c pch" style="--d:4;--p:3;--v:349;--h:64"><b>SR</b><i>Dig</i><s>B10 9</s></div>
<div class="c grn" style="--d:4;--p:3;--v:413;--h:64"><b>GYA</b><i>Ir</i><s>B12 3</s></div>
<div class="c red" style="--d:4;--p:3;--v:477;--h:64"><b>HR</b><i>Ir</i><s>B12 2</s></div>
<div class="c pch" style="--d:4;--p:3;--v:541;--h:64"><b>SR</b><i>Dig</i><s>B10 9</s></div>
<div class="c grn" style="--d:4;--p:3;--v:605;--h:64"><b>GYA</b><i>Ir</i><s>B12 3</s></div>
<div class="c red" style="--d:4;--p:3;--v:669;--h:64"><b>HR</b><i>Ir</i><s>B12 2</s></div>
<div class="c pch" style="--d:4;--p:3;--v:733;--h:64"><b>SR</b><i>Dig</i><s>B10 9</s></div>
<div class="c grn" style="--d:4;--p:3;--v:797;--h:64"><b>GYA</b><i>Ir</i><s>B12 3</s></div>
<div class="c blu" style="--d:4;--p:4;--v:93;--h:192"><b>KI</b><i>Tert ud</i><s>B12 2</s></div>
<div class="c blu" style="--d:4;--p:4;--v:285;--h:192"><b>KI</b><i>Tert ud</i><s>B12 2</s></div>
<div class="c wht" style="--d:4;--p:4;--v:477;--h:192"><b>SI</b><i>Én</i><s>B12 3</s></div>
<div class="c wht" style="--d:4;--p:4;--v:669;--h:192"><b>SI</b><i>Én</i><s>B12 3</s></div>
<div class="c lgr" style="--d:4;--p:5;--v:93;--h:38.4"><b>DÖZ</b><s>Ang</s></div>
<div class="c yel" style="--d:4;--p:5;--v:131.4;--h:38.4"><b>VK</b><s>Ang</s></div>
<div class="c sal" style="--d:4;--p:5;--v:169.8;--h:38.4"><b>PÁ</b><s>Ang</s></div>
<div class="c red" style="--d:4;--p:5;--v:208.2;--h:38.4"><b>HR</b><s>m0</s></div>
<div class="c lgr" style="--d:4;--p:5;--v:285;--h:38.4"><b>DÖZ</b><s>Ang</s></div>
<div class="c yel" style="--d:4;--p:5;--v:323.4;--h:38.4"><b>VK</b><s>Ang</s></div>
<div class="c sal" style="--d:4;--p:5;--v:361.8;--h:38.4"><b>PÁ</b><s>Ang</s></div>
<div class="c red" style="--d:4;--p:5;--v:400.2;--h:38.4"><b>HR</b><s>m1</s></div>
<div class="c lgr" style="--d:4;--p:5;--v:477;--h:38.4"><b>DÖZ</b><s>Ang</s></div>
<div class="c yel" style="--d:4;--p:5;--v:515.4;--h:38.4"><b>VK</b><s>Ang</s></div>
<div class="c sal" style="--d:4;--p:5;--v:553.8;--h:38.4"><b>PÁ</b><s>Ang</s></div>
<div class="c red" style="--d:4;--p:5;--v:592.2;--h:38.4"><b>HR</b><s>m0</s></div>
<div class="c lgr" style="--d:4;--p:5;--v:669;--h:38.4"><b>DÖZ</b><s>Ang</s></div>
<div class="c yel" style="--d:4;--p:5;--v:707.4;--h:38.4"><b>VK</b><s>Ang</s></div>
<div class="c sal" style="--d:4;--p:5;--v:745.8;--h:38.4"><b>PÁ</b><s>Ang</s></div>
<div class="c red" style="--d:4;--p:5;--v:784.2;--h:38.4"><b>HR</b><s>m1</s></div>
<div class="c per" style="--d:4;--p:6;--v:93;--h:96"><b>KB</b><i>Test</i><s>Cs1</s></div>
<div class="c brn" style="--d:4;--p:6;--v:189;--h:96"><b>CT</b><i>Test</i><s>Cs2</s></div>
<div class="c per" style="--d:4;--p:6;--v:285;--h:96"><b>KB</b><i>Test</i><s>Cs1</s></div>
<div class="c brn" style="--d:4;--p:6;--v:381;--h:96"><b>CT</b><i>Test</i><s>Cs2</s></div>
<div class="c per" style="--d:4;--p:6;--v:477;--h:96"><b>KB</b><i>Test</i><s>Cs1</s></div>
<div class="c brn" style="--d:4;--p:6;--v:573;--h:96"><b>CT</b><i>Test</i><s>Cs2</s></div>
<div class="c per" style="--d:4;--p:6;--v:669;--h:96"><b>KB</b><i>Test</i><s>Cs1</s></div>
<div class="c brn" style="--d:4;--p:6;--v:765;--h:96"><b>CT</b><i>Test</i><s>Cs2</s></div>

<div class="frame"></div>
</div>
</body></html>
